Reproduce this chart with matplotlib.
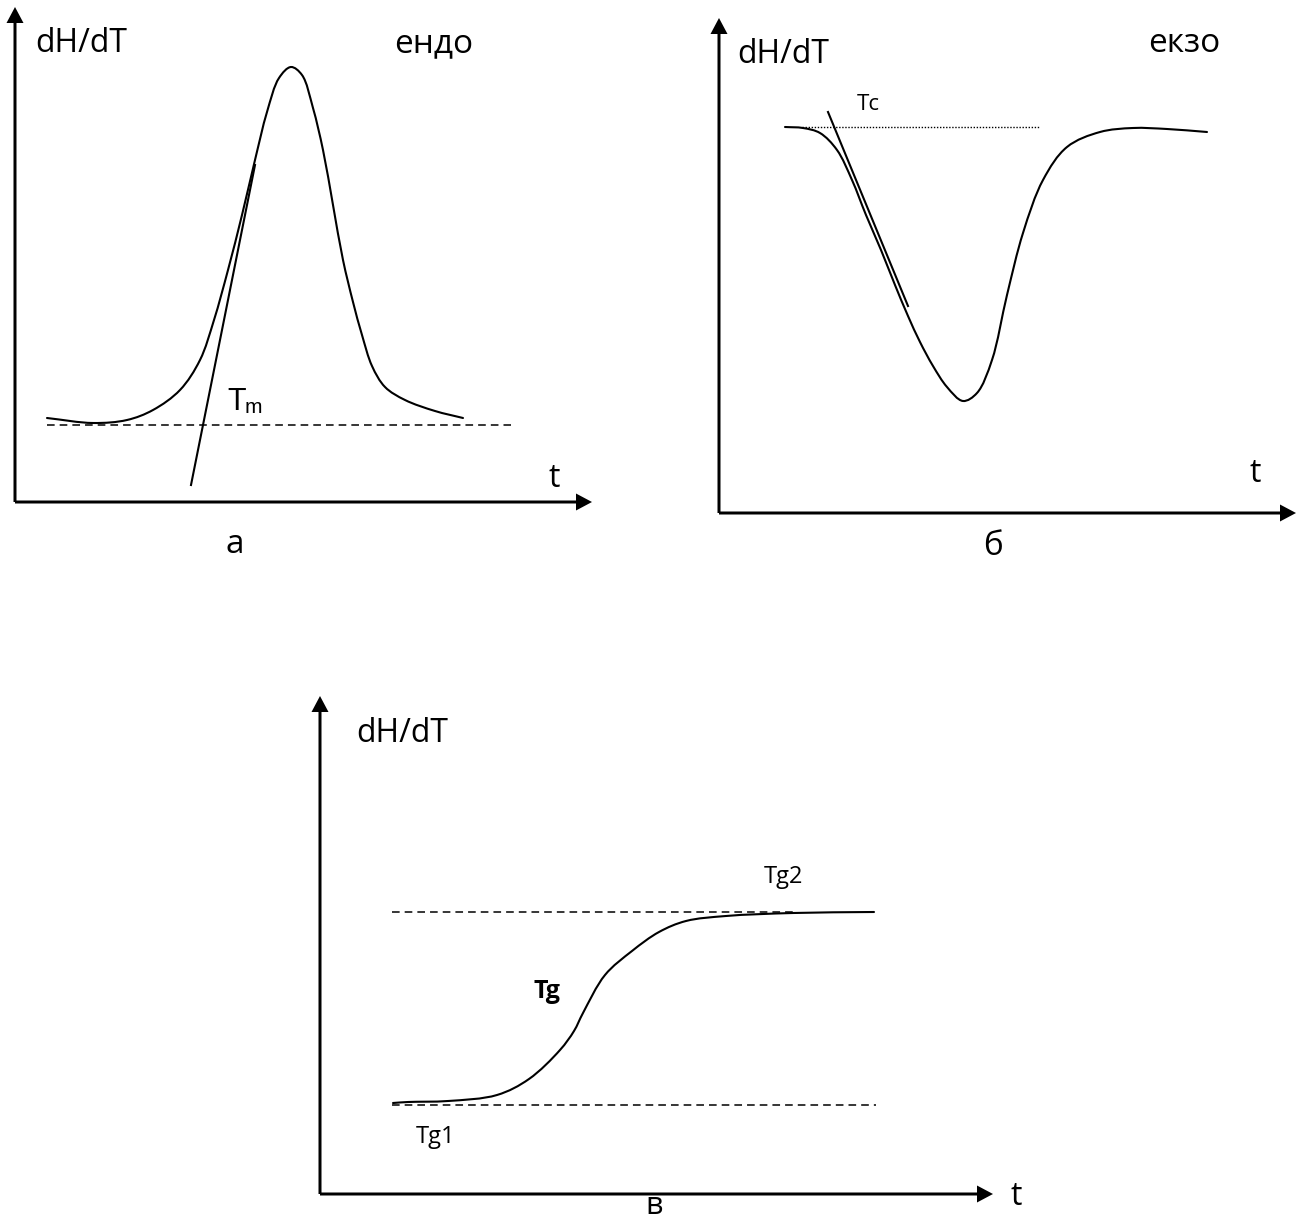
import numpy as np
import matplotlib
matplotlib.use("Agg")
import matplotlib.pyplot as plt
from matplotlib.path import Path
from matplotlib.patches import PathPatch

plt.rcParams['font.family'] = ['Open Sans', 'DejaVu Sans']

# ---- panel a: endothermic peak (local units: t right, dH/dT up) ----
endo_t = [32, 78, 112, 138, 165, 185, 199, 213, 227, 240, 252, 264, 276,
          287, 298, 308, 318, 328, 338, 347, 357, 370, 390, 420, 448]
endo_h = [84, 79, 82, 92, 112, 142, 182, 232, 287, 342, 390, 424, 435,
          427, 394, 352, 297, 242, 200, 167, 136, 115, 102, 91, 84]
endo_tangent_t = [240, 176]
endo_tangent_h = [337, 17]
endo_base_t = [32, 496]
endo_base_h = [77, 77]

# ---- panel b: exothermic dip ----
exo_t = [66, 84, 101, 118, 133, 147, 162, 176, 189, 201, 214, 228, 244,
         258, 273, 288, 304, 324, 348, 381, 414, 448, 488]
exo_h = [386, 385, 380, 363, 333, 298, 263, 228, 197, 171, 147, 126, 112,
         120, 153, 218, 280, 333, 366, 381, 385, 384, 381]
exo_tangent_t = [109, 189]
exo_tangent_h = [401, 207]
exo_base_t = [83, 321]
exo_base_h = [386, 386]

# ---- panel c: glass transition step ----
glass_t = [73, 88, 128, 177, 209, 240, 254, 263, 285, 312, 339, 366, 406,
           473, 554]
glass_h = [91, 92, 93, 99, 115, 144, 163, 181, 219, 243, 262, 273, 278,
           281, 282]
glass_low_t = [72, 556]
glass_low_h = [89, 89]
glass_high_t = [72, 473]
glass_high_h = [282, 282]

y_label = "dH/dT"
x_label = "t"
panel_names = ["а", "б", "в"]

W, H = 1298, 1222
fig = plt.figure(figsize=(W / 100, H / 100), dpi=100)
fig.patch.set_facecolor("white")


def make_panel(ox, oy, px0, px1, py0, py1):
    ax = fig.add_axes([px0 / W, 1 - py1 / H, (px1 - px0) / W, (py1 - py0) / H])
    ax.set_xlim(px0 - ox, px1 - ox)
    ax.set_ylim(oy - py1, oy - py0)
    ax.axis("off")
    return ax


def smooth_curve(ax, xs, ys, lw=1.5):
    """Centripetal Catmull-Rom spline drawn as cubic Bezier segments."""
    pts = np.column_stack([xs, ys]).astype(float)
    n = len(pts)
    verts = [pts[0]]
    codes = [Path.MOVETO]
    for i in range(n - 1):
        p1 = pts[i]
        p2 = pts[i + 1]
        p0 = pts[i - 1] if i > 0 else 2 * p1 - p2
        p3 = pts[i + 2] if i + 2 < n else 2 * p2 - p1
        l1 = np.linalg.norm(p1 - p0)
        l2 = np.linalg.norm(p2 - p1)
        l3 = np.linalg.norm(p3 - p2)
        d1, d2, d3 = np.sqrt(l1), np.sqrt(l2), np.sqrt(l3)
        b1 = (l1 * p2 - l2 * p0 + (2 * l1 + 3 * d1 * d2 + l2) * p1) / (3 * d1 * (d1 + d2))
        b2 = (l3 * p1 - l2 * p3 + (2 * l3 + 3 * d3 * d2 + l2) * p2) / (3 * d3 * (d3 + d2))
        verts += [b1, b2, p2]
        codes += [Path.CURVE4] * 3
    ax.add_patch(PathPatch(Path(verts, codes), fill=False, lw=lw,
                           edgecolor="black", capstyle="round",
                           joinstyle="round"))


def draw_axes(ax, xlen, ylen):
    kw = dict(width=3, head_width=17, head_length=16,
              length_includes_head=True, fc="black", ec="black", lw=0)
    ax.arrow(0, 0, 0, ylen, **kw)
    ax.arrow(0, 0, xlen, 0, **kw)


txt = dict(color="black", va="baseline")

# panel a
ax_a = make_panel(15, 502, 0, 640, 0, 600)
draw_axes(ax_a, 577, 495)
smooth_curve(ax_a, endo_t, endo_h)
ax_a.plot(endo_tangent_t, endo_tangent_h, color="black", lw=1.5)
ax_a.plot(endo_base_t, endo_base_h, color="black", lw=1.1,
          linestyle=(0, (5, 3.3)))
ax_a.text(20, 450, y_label, fontsize=23, ha="left", **txt)
ax_a.text(419, 450, "ендо", fontsize=24, ha="center", **txt)
ax_a.text(539, 15, x_label, fontsize=23, ha="center", **txt)
ax_a.text(220, -51, panel_names[0], fontsize=24, ha="center", **txt)
ax_a.text(212, 92, "T", fontsize=22, ha="left",
          family=["Liberation Sans"], **txt)
ax_a.text(230, 89, "m", fontsize=15, ha="left",
          family=["Liberation Sans"], **txt)

# panel b
ax_b = make_panel(719, 513, 660, 1298, 0, 600)
draw_axes(ax_b, 577, 495)
smooth_curve(ax_b, exo_t, exo_h)
ax_b.plot(exo_tangent_t, exo_tangent_h, color="black", lw=1.5)
ax_b.plot(exo_base_t, exo_base_h, color="black", lw=1.0,
          linestyle=(0, (1, 1.2)))
ax_b.text(18, 450, y_label, fontsize=23, ha="left", **txt)
ax_b.text(138, 403, "Tc", fontsize=16, ha="left", **txt)
ax_b.text(465, 461, "екзо", fontsize=24, ha="center", **txt)
ax_b.text(536, 31, x_label, fontsize=23, ha="center", **txt)
ax_b.text(274, -42, panel_names[1], fontsize=24, ha="center", **txt)

# panel c
ax_c = make_panel(320, 1194, 280, 1100, 640, 1222)
draw_axes(ax_c, 673, 498)
smooth_curve(ax_c, glass_t, glass_h)
ax_c.plot(glass_low_t, glass_low_h, color="black", lw=1.1,
          linestyle=(0, (5, 3.3)))
ax_c.plot(glass_high_t, glass_high_h, color="black", lw=1.1,
          linestyle=(0, (5, 3.3)))
ax_c.text(36, 452, y_label, fontsize=23, ha="left", **txt)
ax_c.text(444, 311, "Tg2", fontsize=17, ha="left", **txt)
ax_c.text(213, 196, "Tg", fontsize=18, ha="left", fontweight="bold", **txt)
ax_c.text(96, 51, "Tg1", fontsize=17, ha="left", **txt)
ax_c.text(696, -11, x_label, fontsize=23, ha="center", **txt)
ax_c.text(334, -20, panel_names[2], fontsize=22, ha="center", **txt)

fig.savefig("out.png", dpi=100, facecolor="white")
